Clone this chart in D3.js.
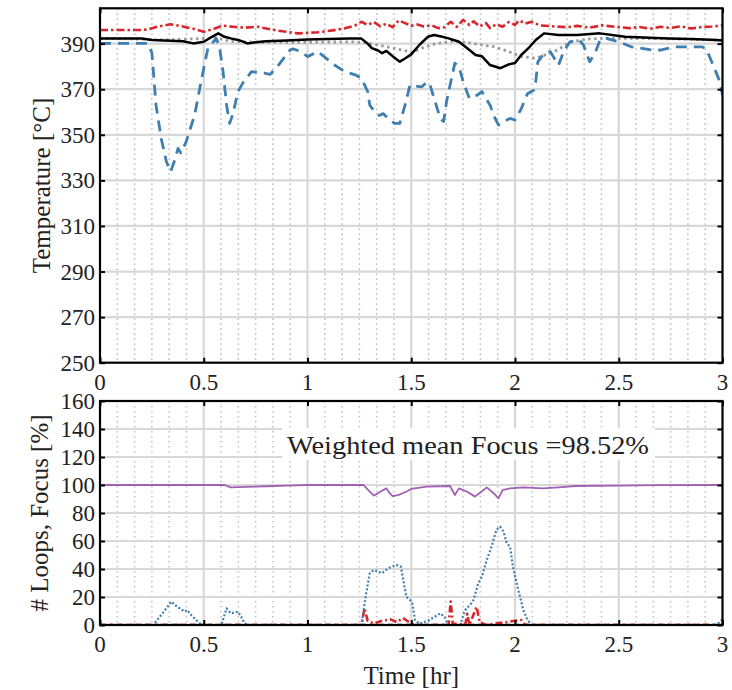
<!DOCTYPE html>
<html>
<head>
<meta charset="utf-8">
<script src="https://cdn.jsdelivr.net/npm/d3@7"></script>
<style>
html,body{margin:0;padding:0;background:#fff;}
svg text{font-family:"Liberation Serif","DejaVu Serif",serif;fill:#222;}
</style>
</head>
<body>
<svg id="chart" width="732" height="690"></svg>
<script>
// ---------------- DATA ----------------
const xTicks = [0, 0.5, 1, 1.5, 2, 2.5, 3];
const xTickLabels = ["0", "0.5", "1", "1.5", "2", "2.5", "3"];
const tempTicks = [250, 270, 290, 310, 330, 350, 370, 390];
const loopTicks = [0, 20, 40, 60, 80, 100, 120, 140, 160];

// Top panel: temperatures [°C]
const redTempT = [0,0.1,0.2,0.23,0.28,0.34,0.4,0.45,0.5,0.55,0.59,0.65,0.7,0.76,0.85,0.955,1.05,1.12,1.18,1.23,1.26,1.29,1.32,1.35,1.38,1.41,1.44,1.47,1.5,1.53,1.56,1.6,1.63,1.66,1.69,1.72,1.75,1.78,1.8,1.83,1.86,1.88,1.91,1.94,1.97,2.0,2.02,2.05,2.08,2.12,2.18,2.25,2.3,2.36,2.42,2.48,2.55,2.6,2.65,2.7,2.75,2.8,2.85,2.9,2.95,3.0];
const redTempV = [396.0,396.0,396.0,396.2,397.5,398.5,397.5,396.5,395.2,396.5,397.9,397.3,397.0,397.4,395.8,394.5,395.0,395.8,396.7,398.0,399.6,398.2,399.5,397.6,398.8,397.2,400.2,399.0,397.8,398.4,397.5,398.0,396.8,397.2,399.6,397.4,400.4,398.2,399.8,397.5,399.0,396.8,398.5,397.4,399.5,398.2,400.2,398.8,399.6,398.0,397.6,397.2,397.8,397.0,398.0,397.4,396.8,397.3,396.5,397.4,396.9,397.6,396.6,397.3,397.5,398.0];

const blackTempT = [0,0.1,0.2,0.25,0.34,0.4,0.45,0.5,0.54,0.57,0.6,0.63,0.67,0.71,0.75,0.8,0.9,1.0,1.1,1.2,1.26,1.29,1.31,1.34,1.36,1.38,1.41,1.445,1.47,1.5,1.54,1.58,1.61,1.65,1.68,1.73,1.77,1.81,1.84,1.88,1.93,1.97,2.0,2.03,2.07,2.1,2.14,2.21,2.3,2.41,2.53,2.65,2.74,2.85,2.97,3.0];
const blackTempV = [392.3,392.3,392.2,391.6,391.3,391.0,390.1,390.8,393.0,394.5,393.0,392.3,391.5,390.1,390.6,391.0,391.4,391.8,392.0,392.3,392.2,390.0,388.0,387.0,385.8,386.8,384.5,382.1,383.5,385.3,389.5,393.0,393.8,393.0,392.3,390.8,388.0,385.0,384.5,380.6,379.2,380.9,381.5,385.0,388.5,391.6,394.5,393.8,393.8,394.5,393.0,392.6,392.3,392.0,391.6,391.4];

const grayTempT = [0,0.2,0.3,0.49,0.56,0.63,0.76,1.0,1.23,1.29,1.4,1.49,1.5,1.55,1.62,1.71,1.8,1.9,1.97,2.03,2.1,2.19,2.27,2.35,2.41,2.6,2.8,3.0];
const grayTempV = [392.3,392.0,391.6,392.2,392.5,391.0,390.6,390.6,390.8,390.2,388.3,386.5,386.0,388.0,390.0,391.2,390.0,388.6,386.5,384.3,383.6,386.5,390.8,392.0,392.3,392.3,392.0,391.5];

const blueTempT = [0,0.1,0.23,0.25,0.27,0.295,0.32,0.34,0.355,0.376,0.39,0.415,0.456,0.487,0.52,0.56,0.575,0.593,0.61,0.625,0.64,0.665,0.69,0.73,0.795,0.82,0.86,0.916,0.93,0.97,1.0,1.05,1.08,1.13,1.18,1.23,1.26,1.29,1.3,1.325,1.345,1.365,1.39,1.42,1.445,1.47,1.494,1.55,1.576,1.59,1.61,1.64,1.656,1.67,1.687,1.71,1.73,1.75,1.78,1.82,1.84,1.88,1.897,1.92,1.945,1.976,2.0,2.03,2.06,2.09,2.1,2.11,2.14,2.17,2.19,2.21,2.234,2.265,2.31,2.33,2.36,2.385,2.41,2.44,2.5,2.56,2.66,2.7,2.77,2.9,2.92,2.955,2.987,3.0];
const blueTempV = [390.1,390.1,390.1,386.0,363.0,348.4,338.2,333.8,337.5,344.0,342.0,346.9,358.7,373.3,388.0,392.3,389.0,377.7,363.0,355.0,359.0,369.0,373.0,377.7,377.0,376.5,380.6,387.2,387.7,386.5,384.3,386.5,384.3,380.6,377.7,376.3,374.8,369.0,363.0,360.0,358.5,359.3,357.0,355.0,355.0,363.0,371.8,371.0,373.3,372.0,366.0,357.2,355.8,364.5,371.8,381.4,380.0,373.3,366.0,367.5,369.0,363.0,358.5,354.3,355.8,357.2,356.5,361.4,368.0,369.5,373.3,382.0,385.7,386.5,383.5,380.6,386.5,390.8,391.6,389.4,382.0,385.7,391.6,392.3,390.8,388.6,387.2,387.2,388.6,388.6,387.9,380.6,373.3,367.5];

// Bottom panel: # loops and focus [%]
const focusT = [0,0.3,0.6,0.63,0.7,0.8,0.9,1.0,1.27,1.3,1.32,1.35,1.38,1.395,1.41,1.44,1.475,1.5,1.574,1.687,1.71,1.73,1.77,1.807,1.83,1.864,1.896,1.92,1.94,1.976,2.04,2.136,2.21,2.29,2.5,2.7,3.0];
const focusV = [100,100,100,98.3,98.6,99.1,99.6,100,100,95.2,92.4,95.2,97.6,94.3,92.0,93.0,95.2,97.2,98.8,99.3,92.9,97.6,95.2,91.7,94.3,98.3,94.3,90.5,96.4,97.6,98.3,97.6,98.3,99.3,99.6,99.9,100];

const loopsBlueT = [0,0.256,0.3,0.344,0.37,0.408,0.42,0.44,0.48,0.5,0.585,0.61,0.63,0.665,0.68,0.697,0.72,1.26,1.28,1.3,1.32,1.34,1.36,1.388,1.428,1.45,1.476,1.494,1.505,1.518,1.54,1.58,1.64,1.66,1.68,1.735,1.76,1.79,1.8,1.823,1.84,1.864,1.887,1.91,1.928,1.945,1.96,1.976,1.99,2.016,2.04,2.06,2.08,2.97,3.0];
const loopsBlueV = [0,0,8,16.7,13.3,9.5,10.7,7,1.2,0,0,11.9,8.3,9.5,6,1,0,0,20.2,36.9,39.3,38,37,40.5,42.9,41.7,20.2,17.9,15.5,3.6,1,3,8.3,6,0,0,10.7,15.5,17.9,29.8,34.5,46.4,55.9,67.9,70.2,66.7,58.3,56,41.7,25,10.7,3.6,0,0,4];

const loopsRedT = [0,1.26,1.275,1.29,1.32,1.36,1.4,1.43,1.46,1.49,1.52,1.68,1.69,1.7,1.76,1.77,1.78,1.815,1.83,1.86,2.03,2.05,3.0];
const loopsRedV = [0,0,12,3,1,3,4,2,5,2,0,0,16.7,1,0,8,0,13,2,0,3.6,0,0];

const loopsBlackT = [0, 3];
const loopsBlackV = [0, 0];

const annotation = "Weighted mean Focus =98.52%";

// ---------------- LAYOUT ----------------
const svg = d3.select("#chart");
const L = 100, R = 722.5;
const top1 = 8.3, bot1 = 362.7;
const top2 = 401, bot2 = 625;

const x = d3.scaleLinear().domain([0, 3]).range([L, R]);
const yT = d3.scaleLinear().domain([250, 405.5]).range([bot1, top1]);
const yB = d3.scaleLinear().domain([0, 160]).range([bot2, top2]);

const minorX = d3.range(0, 36 + 1).map(i => i / 12).filter(v => Math.abs(v * 2 - Math.round(v * 2)) > 1e-6);

const zip = (T, V) => T.map((t, i) => [t, V[i]]);

function panel(id, yScale, top, bot, yTicks) {
  const g = svg.append("g");
  g.append("clipPath").attr("id", id).append("rect")
    .attr("x", L).attr("y", top).attr("width", R - L).attr("height", bot - top);
  g.append("g").selectAll("line").data(minorX).join("line")
    .attr("x1", d => x(d)).attr("x2", d => x(d)).attr("y1", top).attr("y2", bot)
    .attr("stroke", "#c4c4c4").attr("stroke-width", 1.6).attr("stroke-dasharray", "1.6,3.4");
  g.append("g").selectAll("line").data(xTicks.slice(1, -1)).join("line")
    .attr("x1", d => x(d)).attr("x2", d => x(d)).attr("y1", top).attr("y2", bot)
    .attr("stroke", "#d8d8d8").attr("stroke-width", 2.2);
  g.append("g").selectAll("line").data(yTicks.slice(1)).join("line")
    .attr("x1", L).attr("x2", R).attr("y1", d => yScale(d)).attr("y2", d => yScale(d))
    .attr("stroke", "#d8d8d8").attr("stroke-width", 2.2);
  return g;
}

function frame(yScale, top, bot, yTicks) {
  const g = svg.append("g");
  const ax = (gen, tx, ty) => {
    const a = g.append("g").attr("transform", `translate(${tx},${ty})`).call(gen);
    a.select(".domain").remove();
    a.selectAll(".tick line").attr("stroke", "#000").attr("stroke-width", 2);
    return a;
  };
  ax(d3.axisBottom(x).tickValues(xTicks).tickSize(-5).tickFormat(""), 0, bot);
  ax(d3.axisTop(x).tickValues(xTicks).tickSize(-5).tickFormat(""), 0, top);
  ax(d3.axisLeft(yScale).tickValues(yTicks).tickSize(-5).tickFormat(""), L, 0);
  ax(d3.axisRight(yScale).tickValues(yTicks).tickSize(-5).tickFormat(""), R, 0);
  g.append("rect").attr("x", L).attr("y", top).attr("width", R - L).attr("height", bot - top)
    .attr("fill", "none").attr("stroke", "#000").attr("stroke-width", 2.2);
  g.append("g").selectAll("text").data(yTicks).join("text")
    .attr("x", L - 5).attr("y", d => yScale(d)).attr("dy", "0.35em")
    .attr("text-anchor", "end").attr("font-size", 23).text(d => d);
  g.append("g").selectAll("text").data(xTicks).join("text")
    .attr("x", d => x(d)).attr("y", bot + 27)
    .attr("text-anchor", "middle").attr("font-size", 23).text((d, i) => xTickLabels[i]);
}

function drawLine(g, clip, data, yScale, color, width, dash) {
  g.append("path").datum(data)
    .attr("clip-path", `url(#${clip})`)
    .attr("fill", "none").attr("stroke", color).attr("stroke-width", width)
    .attr("stroke-dasharray", dash).attr("stroke-linejoin", "round")
    .attr("d", d3.line().x(d => x(d[0])).y(d => yScale(d[1])));
}

// ---- top panel ----
const gT = panel("clipT", yT, top1, bot1, tempTicks);
drawLine(gT, "clipT", zip(grayTempT, grayTempV), yT, "#9a9a9a", 2.8, "2.5,3.5");
drawLine(gT, "clipT", zip(blueTempT, blueTempV), yT, "#3f7fb0", 2.8, "11,7");
drawLine(gT, "clipT", zip(blackTempT, blackTempV), yT, "#000", 2.5, null);
drawLine(gT, "clipT", zip(redTempT, redTempV), yT, "#d8262c", 2.6, "8,3,2.5,3");
frame(yT, top1, bot1, tempTicks);

// ---- bottom panel ----
const gB = panel("clipB", yB, top2, bot2, loopTicks);
gB.append("rect").attr("x", 282).attr("y", 428).attr("width", 373).attr("height", 32).attr("fill", "#fff");
gB.append("text").attr("x", 287).attr("y", 454).attr("font-size", 25).attr("textLength", 362)
  .attr("lengthAdjust", "spacingAndGlyphs").text(annotation);
drawLine(gB, "clipB", zip(focusT, focusV), yB, "#a35fb4", 1.8, null);
drawLine(gB, "clipB", zip(loopsBlackT, loopsBlackV), yB, "#222", 2.5, "5,4");
drawLine(gB, "clipB", zip(loopsRedT, loopsRedV), yB, "#d8262c", 2.6, "7,3,2,3");
drawLine(gB, "clipB", zip(loopsBlueT, loopsBlueV), yB, "#3f7fb0", 2.2, "2,2");
frame(yB, top2, bot2, loopTicks);

// ---- axis titles ----
svg.append("text").attr("transform", `translate(50,${(top1 + bot1) / 2}) rotate(-90)`)
  .attr("text-anchor", "middle").attr("font-size", 25).text("Temperature [°C]");
svg.append("text").attr("transform", `translate(48,${(top2 + bot2) / 2}) rotate(-90)`)
  .attr("text-anchor", "middle").attr("font-size", 25).text("# Loops, Focus [%]");
svg.append("text").attr("x", (L + R) / 2).attr("y", 684)
  .attr("text-anchor", "middle").attr("font-size", 25).text("Time [hr]");
</script>
</body>
</html>
